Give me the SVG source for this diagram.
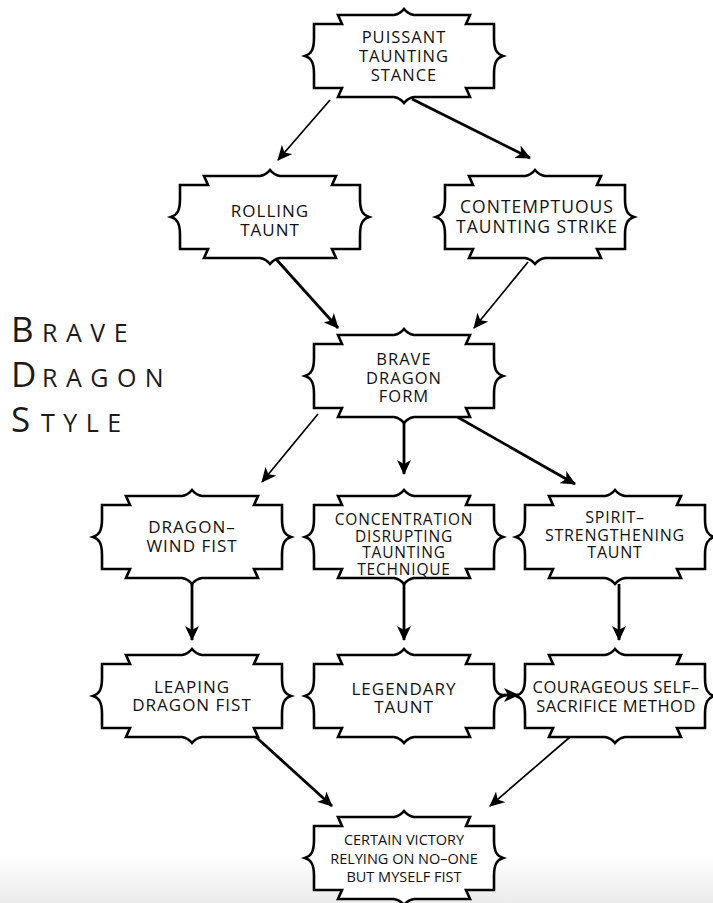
<svg xmlns="http://www.w3.org/2000/svg" xmlns:xlink="http://www.w3.org/1999/xlink" width="713" height="903" viewBox="0 0 713 903">
<defs>
<linearGradient id="bg" x1="0" y1="0" x2="0" y2="1">
<stop offset="0" stop-color="#ffffff"/>
<stop offset="1" stop-color="#ebebeb"/>
</linearGradient>
<path id="frame" d="M-90,-32 L-62,-32 L-66,-41 L-10,-41 Q-4,-42 0,-47 Q4,-42 10,-41 L66,-41 L62,-32 L90,-32 L90,-18 C90,-6 93,-2 99,0 C93,2 90,6 90,18 L90,32 L62,32 L66,41 L10,41 Q4,42 0,47 Q-4,42 -10,41 L-66,41 L-62,32 L-90,32 L-90,18 C-90,6 -93,2 -99,0 C-93,-2 -90,-6 -90,-18 Z"/>
<marker id="ah" markerUnits="userSpaceOnUse" markerWidth="16" markerHeight="14" viewBox="0 0 16 14" refX="14" refY="7" orient="auto">
<path d="M0,0 L15,7 L0,14 L4,7 Z" fill="#000"/>
</marker>
</defs>
<style>
.fr{fill:#fff;stroke:#000;stroke-width:2.6;stroke-linejoin:miter}
.t{font-family:"Open Sans","Liberation Sans",sans-serif;fill:#111;text-anchor:middle}
.c{stroke:#000;fill:none;marker-end:url(#ah)}
.k{stroke-width:2.8}
.n{stroke-width:1.7}
.ttl{font-family:"Open Sans","Liberation Sans",sans-serif;fill:#1a1a1a}
</style>
<rect x="0" y="0" width="713" height="903" fill="#fff"/>
<rect x="0" y="855" width="713" height="48" fill="url(#bg)"/>

<g id="connectors">
<line class="c n" x1="330" y1="100" x2="278" y2="160"/>
<line class="c k" x1="412" y1="99" x2="530" y2="158"/>
<line class="c k" x1="276" y1="259" x2="338" y2="328"/>
<line class="c n" x1="528" y1="262" x2="474" y2="328"/>
<line class="c n" x1="318" y1="414" x2="262" y2="482"/>
<line class="c k" x1="404" y1="421" x2="404" y2="474"/>
<line class="c k" x1="438" y1="406" x2="575" y2="484"/>
<line class="c k" x1="192" y1="584" x2="192" y2="640"/>
<line class="c k" x1="404" y1="584" x2="404" y2="640"/>
<line class="c k" x1="619" y1="584" x2="619" y2="640"/>
<line class="c k" x1="500" y1="695" x2="518" y2="695"/>
<line class="c k" x1="256" y1="737" x2="332" y2="806"/>
<line class="c n" x1="570" y1="737" x2="490" y2="806"/>
</g>

<g id="title" class="ttl">
<text x="11" y="342"><tspan font-size="35">B</tspan><tspan x="42" font-size="25" letter-spacing="8.5">RAVE</tspan></text>
<text x="11" y="387"><tspan font-size="35">D</tspan><tspan x="42" font-size="25" letter-spacing="8.5">RAGON</tspan></text>
<text x="11" y="432"><tspan font-size="35">S</tspan><tspan x="41" font-size="25" letter-spacing="8.5">TYLE</tspan></text>
</g>

<g id="n1">
<use xlink:href="#frame" class="fr" transform="translate(404,56)"/>
<text class="t" font-size="16.5" letter-spacing="1"><tspan x="404" y="43">PUISSANT</tspan><tspan x="404" y="62">TAUNTING</tspan><tspan x="404" y="81">STANCE</tspan></text>
</g>
<g id="n2">
<use xlink:href="#frame" class="fr" transform="translate(270,217)"/>
<text class="t" font-size="17" letter-spacing="1"><tspan x="270" y="217">ROLLING</tspan><tspan x="270" y="236">TAUNT</tspan></text>
</g>
<g id="n3">
<use xlink:href="#frame" class="fr" transform="translate(535,217)"/>
<text class="t" font-size="17.5" letter-spacing="1"><tspan x="537" y="213">CONTEMPTUOUS</tspan><tspan x="537" y="233">TAUNTING STRIKE</tspan></text>
</g>
<g id="n4">
<use xlink:href="#frame" class="fr" transform="translate(404,376)"/>
<text class="t" font-size="16.5" letter-spacing="1"><tspan x="404" y="365">BRAVE</tspan><tspan x="404" y="384">DRAGON</tspan><tspan x="404" y="402">FORM</tspan></text>
</g>
<g id="n5">
<use xlink:href="#frame" class="fr" transform="translate(192,537)"/>
<text class="t" font-size="17" letter-spacing="1"><tspan x="192" y="533">DRAGON–</tspan><tspan x="192" y="552">WIND FIST</tspan></text>
</g>
<g id="n6">
<use xlink:href="#frame" class="fr" transform="translate(404,537)"/>
<text class="t" font-size="15.5" letter-spacing="0.8"><tspan x="404" y="525">CONCENTRATION</tspan><tspan x="404" y="541.5">DISRUPTING</tspan><tspan x="404" y="558">TAUNTING</tspan><tspan x="404" y="574.5">TECHNIQUE</tspan></text>
</g>
<g id="n7">
<use xlink:href="#frame" class="fr" transform="translate(615,537)"/>
<text class="t" font-size="16" letter-spacing="0.8"><tspan x="615" y="523">SPIRIT–</tspan><tspan x="615" y="541">STRENGTHENING</tspan><tspan x="615" y="558">TAUNT</tspan></text>
</g>
<g id="n8">
<use xlink:href="#frame" class="fr" transform="translate(192,696)"/>
<text class="t" font-size="17" letter-spacing="1"><tspan x="192" y="693">LEAPING</tspan><tspan x="192" y="711">DRAGON FIST</tspan></text>
</g>
<g id="n9">
<use xlink:href="#frame" class="fr" transform="translate(404,696)"/>
<text class="t" font-size="17" letter-spacing="1"><tspan x="404" y="695">LEGENDARY</tspan><tspan x="404" y="713">TAUNT</tspan></text>
</g>
<g id="n10">
<use xlink:href="#frame" class="fr" transform="translate(615,696)"/>
<text class="t" font-size="16.5" letter-spacing="0.5"><tspan x="616" y="693">COURAGEOUS SELF–</tspan><tspan x="616" y="712">SACRIFICE METHOD</tspan></text>
</g>
<g id="n11">
<use xlink:href="#frame" class="fr" transform="translate(404,858)"/>
<text class="t" font-size="14.5"><tspan x="404" y="845">CERTAIN VICTORY</tspan><tspan x="404" y="864">RELYING ON NO–ONE</tspan><tspan x="404" y="882">BUT MYSELF FIST</tspan></text>
</g>
</svg>
